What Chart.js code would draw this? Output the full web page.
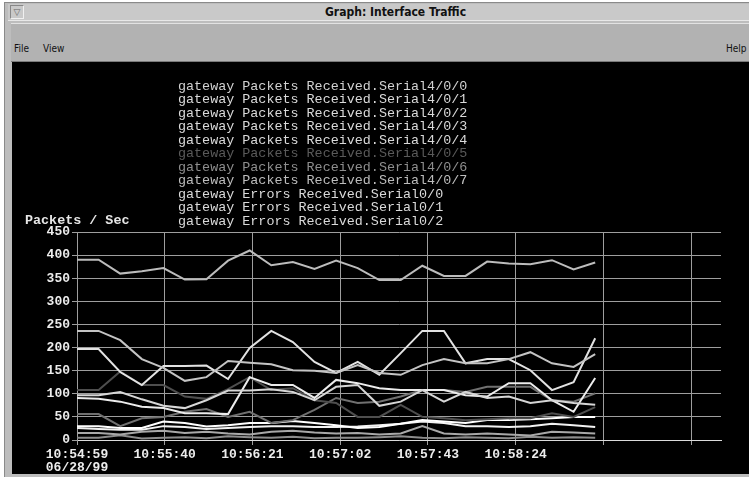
<!DOCTYPE html>
<html>
<head>
<meta charset="utf-8">
<script src="https://cdn.jsdelivr.net/npm/chart.js@4.4.0/dist/chart.umd.min.js"></script>
<style>
  html, body { margin: 0; padding: 0; background: #fff; }
  body { width: 749px; height: 477px; position: relative; overflow: hidden; }
  .frame { position: absolute; left: 4px; top: 2px; width: 745px; height: 475px; background: #bdbdbd; border-left: 1px solid #8a8a8a; border-top: 1px solid #8a8a8a; }
  .titlebar { position: absolute; left: 8px; top: 4px; width: 741px; height: 16px; background: #c9c9c9; border-bottom: 1px solid #e8e8e8; }
  .titlebar .btn { position: absolute; left: 2px; top: 1px; width: 12px; height: 12px; border: 1px solid #888; border-right-color: #f0f0f0; border-bottom-color: #f0f0f0; font: 9px "DejaVu Sans", sans-serif; color: #666; text-align: center; line-height: 12px; }
  .titlebar .txt { position: absolute; left: 317px; top: 1px; font: bold 12px "Liberation Sans Narrow", "DejaVu Sans Condensed", sans-serif; color: #111; }
  .menubar { position: absolute; left: 11px; top: 23px; width: 738px; height: 37px; background: #b2b2b2; border-top: 1px solid #e2e2e2; border-bottom: 1px solid #7a7a7a; font: 10px "Liberation Sans Narrow", "DejaVu Sans Condensed", sans-serif; color: #111; }
  .menubar span { position: absolute; top: 19px; }
  .panel { position: absolute; left: 12px; top: 62px; width: 737px; height: 412px; background: #000; }
  canvas { display: block; }
</style>
</head>
<body>
<div class="frame"></div>
<div class="titlebar"><div class="btn">&#9661;</div><div class="txt">Graph: Interface Traffic</div></div>
<div class="menubar"><span style="left:3px">File</span><span style="left:32px">View</span><span style="left:715px">Help</span></div>
<div class="panel"><canvas id="graph" width="737" height="412"></canvas></div>

<script>
// sample times, seconds after 10:54:59
const sampleTimes = [0, 10.1, 20.2, 30.3, 40.4, 50.4, 60.5, 70.6, 80.7, 90.8, 100.9, 111, 121.1,
  131.2, 141.3, 151.3, 161.4, 171.5, 181.6, 191.7, 201.8, 211.9, 222, 232.1, 242.2];

const tickTimes = [0, 41, 82, 123, 164, 205, 246, 287];
const tickLabels = [['10:54:59', '06/28/99'], '10:55:40', '10:56:21', '10:57:02', '10:57:43', '10:58:24', '', ''];

const seriesNames = [
  'gateway Packets Received.Serial4/0/0',
  'gateway Packets Received.Serial4/0/1',
  'gateway Packets Received.Serial4/0/2',
  'gateway Packets Received.Serial4/0/3',
  'gateway Packets Received.Serial4/0/4',
  'gateway Packets Received.Serial4/0/5',
  'gateway Packets Received.Serial4/0/6',
  'gateway Packets Received.Serial4/0/7',
  'gateway Errors Received.Serial0/0',
  'gateway Errors Received.Serial0/1',
  'gateway Errors Received.Serial0/2'
];

const serial400 = [390, 390, 360, 365, 372, 347, 348, 388, 410, 378, 385, 370, 388, 372, 346, 346, 377, 355, 355, 386, 382, 380, 389, 369, 384];
const serial401 = [236, 236, 216, 175, 156, 128, 136, 171, 167, 164, 151, 150, 145, 162, 145, 141, 162, 175, 166, 166, 175, 190, 166, 158, 186];
const serial402 = [197, 197, 147, 119, 160, 160, 161, 132, 199, 236, 212, 169, 145, 169, 141, 188, 236, 236, 166, 175, 175, 151, 108, 125, 220];
const serial403 = [97, 97, 104, 88, 74, 69, 86, 107, 107, 110, 104, 86, 115, 119, 74, 83, 108, 83, 104, 91, 94, 80, 86, 80, 76];
const serial404 = [91, 89, 83, 72, 69, 58, 58, 56, 136, 119, 119, 91, 130, 123, 112, 108, 108, 108, 97, 94, 123, 123, 86, 61, 134];
const serial405 = [108, 108, 148, 119, 119, 94, 89, 110, 136, 108, 112, 86, 80, 50, 50, 76, 50, 47, 43, 45, 47, 47, 58, 50, 71];
const serial406 = [56, 56, 30, 47, 50, 61, 67, 50, 61, 37, 43, 65, 91, 80, 83, 94, 108, 108, 104, 115, 115, 115, 86, 83, 101];
const serial407 = [15, 15, 12, 18, 20, 15, 18, 14, 12, 18, 20, 16, 14, 15, 12, 14, 30, 14, 12, 14, 12, 10, 18, 16, 14];
const errors00 = [30, 30, 26, 26, 40, 37, 29, 32, 37, 37, 41, 37, 32, 26, 28, 35, 43, 40, 37, 43, 43, 45, 47, 50, 50];
const errors01 = [26, 24, 22, 22, 30, 28, 24, 26, 28, 30, 30, 28, 28, 29, 32, 35, 40, 37, 30, 30, 28, 30, 35, 32, 28];
const errors02 = [5, 5, 10, 3, 5, 6, 4, 8, 6, 5, 7, 4, 5, 5, 6, 8, 5, 4, 6, 5, 4, 7, 5, 6, 5];

const seriesValues = [serial400, serial401, serial402, serial403, serial404, serial405, serial406, serial407, errors00, errors01, errors02];
const seriesColors = ['#bcbcbc', '#c4c4c4', '#e2e2e2', '#d6d6d6', '#ececec', '#4e4e4e', '#707070', '#a8a8a8', '#ffffff', '#f2f2f2', '#8c8c8c'];
const legendColors = ['#d2d2d2', '#dadada', '#dadada', '#dadada', '#dadada', '#5a5a5a', '#8e8e8e', '#bdbdbd', '#dadada', '#dadada', '#dadada'];

const monoFont = '"Liberation Mono", "DejaVu Sans Mono", monospace';

// legend lines and the axis caption, painted above the plot
const legendText = {
  id: 'legendText',
  afterDraw(chart) {
    const ctx = chart.ctx;
    ctx.save();
    ctx.font = '13.4px ' + monoFont;
    ctx.textBaseline = 'middle';
    seriesNames.forEach((name, i) => {
      ctx.fillStyle = legendColors[i];
      ctx.fillText(name, 166, 24 + i * 13.5);
    });
    ctx.font = 'bold 13.4px ' + monoFont;
    ctx.fillStyle = '#e6e6e6';
    ctx.fillText('Packets / Sec', 13, 159);
    ctx.restore();
  }
};

new Chart(document.getElementById('graph'), {
  type: 'line',
  data: {
    datasets: seriesValues.map((vals, i) => ({
      label: seriesNames[i],
      data: vals.map((v, j) => ({ x: sampleTimes[j], y: v })),
      borderColor: seriesColors[i],
      borderWidth: 2,
      pointRadius: 0,
      tension: 0,
      fill: false
    }))
  },
  options: {
    responsive: false,
    animation: false,
    layout: { padding: { left: 0, top: 170, right: 28, bottom: 0 } },
    plugins: { legend: { display: false }, tooltip: { enabled: false } },
    scales: {
      x: {
        type: 'linear',
        min: 0,
        max: 301,
        afterBuildTicks: s => { s.ticks = tickTimes.map(v => ({ value: v })); },
        afterFit: s => { s.height = 34; },
        grid: { color: '#9e9e9e', tickColor: '#9e9e9e', tickLength: 5, lineWidth: 1 },
        border: { color: '#dcdcdc', width: 1 },
        ticks: {
          autoSkip: false,
          maxRotation: 0,
          padding: 3,
          color: '#ececec',
          font: { family: monoFont, size: 13, weight: 'bold', lineHeight: 1.0 },
          callback: (v, i) => tickLabels[i]
        }
      },
      y: {
        min: 0,
        max: 450,
        afterFit: s => { s.width = 65; },
        grid: { color: '#9e9e9e', tickColor: '#9e9e9e', tickLength: 5, lineWidth: 1 },
        border: { color: '#9e9e9e', width: 1 },
        ticks: {
          stepSize: 50,
          padding: 2,
          color: '#ececec',
          font: { family: monoFont, size: 13, weight: 'bold' }
        }
      }
    }
  },
  plugins: [legendText]
});
</script>
</body>
</html>
